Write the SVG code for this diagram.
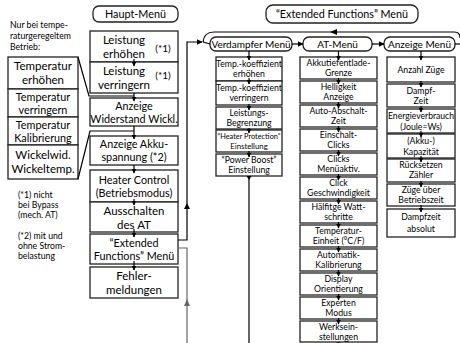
<svg xmlns="http://www.w3.org/2000/svg" width="460" height="343" viewBox="0 0 460 343">
<defs>
<marker id="ah" markerWidth="6" markerHeight="6" refX="5.5" refY="3" orient="auto" markerUnits="userSpaceOnUse"><path d="M0,0 L6,3 L0,6 z" fill="#000"/></marker>
<marker id="ahs" markerWidth="5" markerHeight="5" refX="4.5" refY="2.5" orient="auto" markerUnits="userSpaceOnUse"><path d="M0,0 L5,2.5 L0,5 z" fill="#000"/></marker>
</defs>
<style>
text{font-family:Lato,"Liberation Sans",sans-serif;fill:#000;text-anchor:middle}
.b{fill:#fff;stroke:#222;stroke-width:1.3}
.m{fill:#fff;stroke:#222;stroke-width:1.3}
.f12{font-size:11.5px}
.f11{font-size:10.8px}
.f10{font-size:10px}
.f9{font-size:8.7px}
.f8{font-size:7.8px}
.l{text-anchor:start}
.c{fill:none;stroke:#000;stroke-width:1.2}
.s{fill:none;stroke:#000;stroke-width:1.2;marker-end:url(#ahs)}
.g{fill:none;stroke:#666;stroke-width:1.2}
</style>

<g id="note-top"><text class="f9 l" x="10" y="28">Nur bei tempe-</text><text class="f9 l" x="10" y="39">raturgeregeltem</text><text class="f9 l" x="10" y="50">Betrieb:</text></g>
<g id="t1"><rect class="b" x="8" y="57" width="70" height="32"/><text class="f12" x="43" y="70">Temperatur</text><text class="f12" x="43" y="84">erhöhen</text></g>
<g id="t2"><rect class="b" x="8" y="89" width="70" height="28"/><text class="f11" x="43" y="100.5">Temperatur</text><text class="f11" x="43" y="113.5">verringern</text></g>
<g id="t3"><rect class="b" x="8" y="117" width="70" height="28"/><text class="f11" x="43" y="128.5">Temperatur</text><text class="f11" x="43" y="141.5">Kalibrierung</text></g>
<g id="t4"><rect class="b" x="8" y="145" width="70" height="34"/><text class="f12" x="43" y="159">Wickelwid.</text><text class="f12" x="43" y="173">Wickeltemp.</text></g>
<g id="note1"><text class="f9 l" x="18" y="198">(*1) nicht</text><text class="f9 l" x="18" y="208">bei Bypass</text><text class="f9 l" x="18" y="218">(mech. AT)</text></g>
<g id="note2"><text class="f9 l" x="18" y="239">(*2) mit und</text><text class="f9 l" x="18" y="249">ohne Strom-</text><text class="f9 l" x="18" y="259">belastung</text></g>

<g id="haupt"><rect class="m" x="93" y="6" width="85" height="16" rx="6"/><text class="f11" x="135.5" y="18">Haupt-Menü</text></g>
<g id="b1"><rect class="b" x="90" y="31" width="88" height="31"/><text class="f12" x="124" y="44">Leistung</text><text class="f12" x="124" y="57.5">erhöhen</text><text class="f10" x="163" y="52">(*1)</text></g>
<g id="b2"><rect class="b" x="90" y="62" width="88" height="31"/><text class="f12" x="124" y="75">Leistung</text><text class="f12" x="124" y="88.5">verringern</text><text class="f10" x="163" y="79">(*1)</text></g>
<g id="b3"><rect class="b" x="90" y="98" width="88" height="28"/><text class="f11" x="134" y="109.5">Anzeige</text><text class="f11" x="134" y="122.5">Widerstand Wickl.</text></g>
<g id="b4"><rect class="b" x="90" y="136" width="88" height="29"/><text class="f11" x="134" y="148">Anzeige Akku-</text><text class="f11" x="134" y="161">spannung (*2)</text></g>
<g id="b5"><rect class="b" x="90" y="170" width="88" height="32"/><text class="f11" x="134" y="184">Heater Control</text><text class="f11" x="134" y="197">(Betriebsmodus)</text></g>
<g id="b6"><rect class="b" x="90" y="202" width="88" height="30"/><text class="f12" x="134" y="214.5">Ausschalten</text><text class="f12" x="134" y="228.5">des AT</text></g>
<g id="b7"><rect class="b" x="90" y="234" width="88" height="30"/><text class="f11" x="134" y="246.5">“Extended</text><text class="f11" x="134" y="259.5">Functions” Menü</text></g>
<g id="b8"><rect class="b" x="90" y="267" width="88" height="31"/><text class="f12" x="134" y="280">Fehler-</text><text class="f12" x="134" y="294">meldungen</text></g>

<g id="ext-head"><rect class="m" x="266" y="5" width="152" height="18" rx="7"/><text class="f11" x="342" y="18">“Extended Functions” Menü</text></g>
<g id="verd-menu"><rect class="m" x="210" y="37" width="82" height="14" rx="6"/><text class="f10" x="251" y="48">Verdampfer Menü</text></g>
<g id="at-menu"><rect class="m" x="303" y="37" width="69" height="14" rx="6"/><text class="f10" x="337.5" y="48">AT-Menü</text></g>
<g id="anz-menu"><rect class="m" x="384" y="37" width="71" height="14" rx="6"/><text class="f10" x="419.5" y="48">Anzeige Menü</text></g>

<g id="v1"><rect class="b" x="216" y="57" width="66" height="24"/><text class="f9" x="249" y="67">Temp.-koeffizient</text><text class="f9" x="249" y="77">erhöhen</text></g>
<g id="v2"><rect class="b" x="216" y="81" width="66" height="24"/><text class="f9" x="249" y="91">Temp.-koeffizient</text><text class="f9" x="249" y="101">verringern</text></g>
<g id="v3"><rect class="b" x="216" y="107" width="66" height="22"/><text class="f9" x="249" y="116">Leistungs-</text><text class="f9" x="249" y="126">Begrenzung</text></g>
<g id="v4"><rect class="b" x="216" y="130" width="66" height="22"/><text class="f8" x="249" y="139" textLength="63" lengthAdjust="spacingAndGlyphs">“Heater Protection”</text><text class="f8" x="249" y="148.5">Einstellung</text></g>
<g id="v5"><rect class="b" x="216" y="154" width="66" height="22"/><text class="f9" x="249" y="163">“Power Boost”</text><text class="f9" x="249" y="173">Einstellung</text></g>

<g id="a1"><rect class="b" x="300" y="57" width="77" height="22"/><text class="f9" x="338.5" y="66">Akkutiefentlade-</text><text class="f9" x="338.5" y="76">Grenze</text></g>
<g id="a2"><rect class="b" x="300" y="81" width="77" height="22"/><text class="f9" x="338.5" y="90">Helligkeit</text><text class="f9" x="338.5" y="100">Anzeige</text></g>
<g id="a3"><rect class="b" x="300" y="105" width="77" height="22"/><text class="f9" x="338.5" y="114">Auto-Abschalt-</text><text class="f9" x="338.5" y="124">Zeit</text></g>
<g id="a4"><rect class="b" x="300" y="129" width="77" height="22"/><text class="f9" x="338.5" y="138">Einschalt-</text><text class="f9" x="338.5" y="148">Clicks</text></g>
<g id="a5"><rect class="b" x="300" y="153" width="77" height="22"/><text class="f9" x="338.5" y="162">Clicks</text><text class="f9" x="338.5" y="172">Menüaktiv.</text></g>
<g id="a6"><rect class="b" x="300" y="177" width="77" height="22"/><text class="f9" x="338.5" y="186">Click</text><text class="f9" x="338.5" y="196">Geschwindigkeit</text></g>
<g id="a7"><rect class="b" x="300" y="201" width="77" height="22"/><text class="f9" x="338.5" y="210">Hälfitge Watt-</text><text class="f9" x="338.5" y="220">schritte</text></g>
<g id="a8"><rect class="b" x="300" y="225" width="77" height="22"/><text class="f9" x="338.5" y="234">Temperatur-</text><text class="f9" x="338.5" y="244">Einheit (°C/F)</text></g>
<g id="a9"><rect class="b" x="300" y="249" width="77" height="22"/><text class="f9" x="338.5" y="258">Automatik-</text><text class="f9" x="338.5" y="268">Kalibrierung</text></g>
<g id="a10"><rect class="b" x="300" y="273" width="77" height="22"/><text class="f9" x="338.5" y="282">Display</text><text class="f9" x="338.5" y="292">Orientierung</text></g>
<g id="a11"><rect class="b" x="300" y="297" width="77" height="22"/><text class="f9" x="338.5" y="306">Experten</text><text class="f9" x="338.5" y="316">Modus</text></g>
<g id="a12"><rect class="b" x="300" y="321" width="77" height="21"/><text class="f9" x="338.5" y="330">Werksein-</text><text class="f9" x="338.5" y="340">stellungen</text></g>

<g id="z1"><rect class="b" x="387" y="57" width="68" height="25"/><text class="f9" x="421" y="73">Anzahl Züge</text></g>
<g id="z2"><rect class="b" x="387" y="84" width="68" height="23"/><text class="f9" x="421" y="94">Dampf-</text><text class="f9" x="421" y="104">Zeit</text></g>
<g id="z3"><rect class="b" x="387" y="109" width="68" height="24"/><text class="f9" x="421" y="119" textLength="66" lengthAdjust="spacingAndGlyphs">Energieverbrauch</text><text class="f9" x="421" y="130">(Joule=Ws)</text></g>
<g id="z4"><rect class="b" x="387" y="134" width="68" height="24"/><text class="f9" x="421" y="144">(Akku-)</text><text class="f9" x="421" y="155">Kapazität</text></g>
<g id="z5"><rect class="b" x="387" y="159" width="68" height="23"/><text class="f9" x="421" y="168">Rücksetzen</text><text class="f9" x="421" y="178">Zähler</text></g>
<g id="z6"><rect class="b" x="387" y="184" width="68" height="22"/><text class="f9" x="421" y="193">Züge über</text><text class="f9" x="421" y="203">Betriebszeit</text></g>
<g id="z7"><rect class="b" x="387" y="209" width="68" height="28"/><text class="f9" x="421" y="220">Dampfzeit</text><text class="f9" x="421" y="232">absolut</text></g>

<g id="connectors">
<path class="c" d="M78,57 L89,96 L134,96"/>
<path class="c" d="M78,179 L90,131 L134,131"/>
<path class="s" d="M134,59 L134,66"/>
<path class="s" d="M134,93 L134,101"/>
<path class="s" d="M134,126 L134,139"/>
<path class="s" d="M134,165 L134,173"/>
<path class="s" d="M134,199 L134,205"/>
<path class="s" d="M134,229 L134,237"/>
<path class="s" d="M134,261 L134,270"/>
<path class="c" d="M178,240 L187,240 L187,42 L202,42" marker-end="url(#ah)"/>
<path d="M184,209 L187,203 L190,209 z" fill="#000"/>
<path class="g" d="M187,343 L187,248 L178,248"/>
<path d="M184,306 L187,299 L190,306 z" fill="#666"/>
<path class="c" d="M460,38 Q460,32 454,32 L214,32 Q204,32 203,42"/>
<path d="M337,29 L330,32 L337,35 z" fill="#000"/>
<path class="c" d="M455,44 L460,44"/>
<path class="c" d="M203,42 L210,44"/>
<path class="c" d="M292,44 L303,44" marker-end="url(#ah)"/>
<path class="c" d="M372,44 L384,44" marker-end="url(#ah)"/>
<path class="s" d="M249,51 L249,60"/>
<path class="s" d="M249,78 L249,84"/>
<path class="s" d="M249,104 L249,110"/>
<path class="s" d="M249,128 L249,133"/>
<path class="s" d="M249,151 L249,157"/>
<path class="c" d="M249,176 L249,343"/>
<path d="M246.5,176 L249,180 L251.5,176 z" fill="#000"/>
<path class="s" d="M338.5,51 L338.5,60"/>
<path class="s" d="M338.5,78 L338.5,84"/>
<path class="s" d="M338.5,102 L338.5,108"/>
<path class="s" d="M338.5,126 L338.5,132"/>
<path class="s" d="M338.5,150 L338.5,156"/>
<path class="s" d="M338.5,174 L338.5,180"/>
<path class="s" d="M338.5,198 L338.5,204"/>
<path class="s" d="M338.5,222 L338.5,228"/>
<path class="s" d="M338.5,246 L338.5,252"/>
<path class="s" d="M338.5,270 L338.5,276"/>
<path class="s" d="M338.5,294 L338.5,300"/>
<path class="s" d="M338.5,318 L338.5,324"/>
<path d="M336,342 L338.5,343 L341,342 z" fill="#000"/>
<path class="s" d="M421,51 L421,60"/>
<path class="s" d="M421,81 L421,87"/>
<path class="s" d="M421,106 L421,112"/>
<path class="s" d="M421,131 L421,137"/>
<path class="s" d="M421,156 L421,162"/>
<path class="s" d="M421,181 L421,187"/>
<path class="s" d="M421,205 L421,212"/>
</g>
</svg>
